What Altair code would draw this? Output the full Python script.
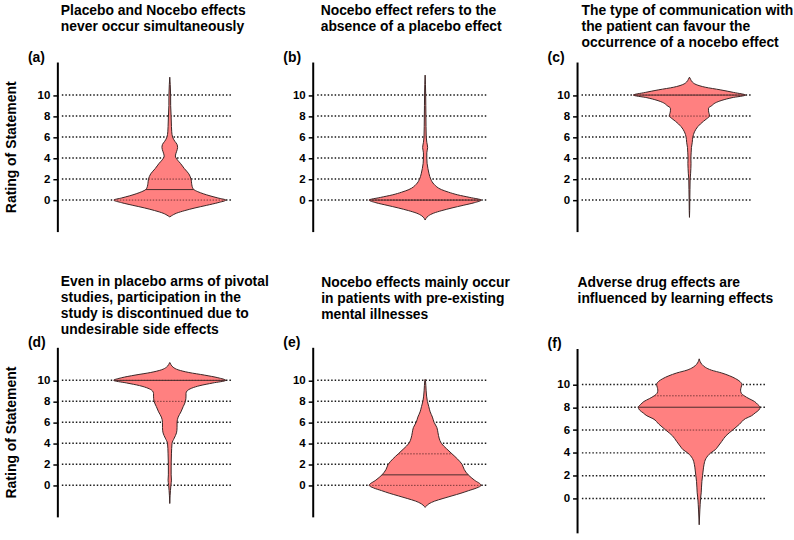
import altair as alt
import numpy as np
import pandas as pd

FONT = "Liberation Sans"
FILL = "#FF8080"
OUTLINE = "#3a2626"

titles = [
    ["Placebo and Nocebo effects", "never occur simultaneously"],
    ["Nocebo effect refers to the", "absence of a placebo effect"],
    ["The type of communication with", "the patient can favour the", "occurrence of a nocebo effect"],
    ["Even in placebo arms of pivotal", "studies, participation in the", "study is discontinued due to", "undesirable side effects"],
    ["Nocebo effects mainly occur", "in patients with pre-existing", "mental illnesses"],
    ["Adverse drug effects are", "influenced by learning effects"],
]
panel_labels = ["(a)", "(b)", "(c)", "(d)", "(e)", "(f)"]
y_title = "Rating of Statement"
tick_values = [0, 2, 4, 6, 8, 10]

# violin outlines: rating level and relative density (half-width)
rating_a = [-1.6, -1.5, -1.25, -1.0, -0.75, -0.5, -0.25, 0, 0.2, 0.4, 0.6, 0.8, 1.0, 1.3, 1.6, 2.0, 2.5, 3.0,
            3.5, 3.8, 4.2, 4.6, 5.0, 5.3, 5.6, 6.0, 6.5, 7.0, 8.0, 9.0, 10.0, 11.0, 11.7]
dens_a = [0, 0.03, 0.12, 0.27, 0.45, 0.66, 0.86, 1.0, 0.86, 0.72, 0.6, 0.5, 0.43, 0.40, 0.39, 0.38, 0.34, 0.26,
          0.19, 0.14, 0.10, 0.12, 0.14, 0.13, 0.09, 0.05, 0.035, 0.03, 0.024, 0.016, 0.015, 0.008, 0]

rating_b = [-1.9, -1.75, -1.5, -1.25, -1.0, -0.75, -0.5, -0.25, 0, 0.25, 0.5, 0.75, 1.0, 1.5, 2.0, 2.5, 3.0,
            3.5, 4.0, 4.5, 5.0, 5.5, 6.0, 7.0, 8.0, 9.0, 10.0, 11.0, 11.9]
dens_b = [0, 0.015, 0.06, 0.15, 0.3, 0.48, 0.68, 0.88, 1.0, 0.8, 0.58, 0.42, 0.29, 0.16, 0.10, 0.07, 0.05,
          0.035, 0.03, 0.03, 0.045, 0.03, 0.02, 0.016, 0.014, 0.012, 0.01, 0.006, 0]

rating_c = [-1.65, -1.0, 0, 1.0, 2.0, 2.5, 3.0, 3.5, 4.0, 4.5, 5.0, 5.5, 6.0, 6.5, 7.0, 7.5, 7.75, 8.0, 8.25,
            8.5, 8.75, 9.0, 9.25, 9.5, 9.75, 10.0, 10.25, 10.5, 10.75, 11.0, 11.25, 11.5, 11.7]
dens_c = [0, 0.004, 0.006, 0.009, 0.012, 0.02, 0.025, 0.028, 0.025, 0.03, 0.035, 0.05, 0.06, 0.09, 0.15, 0.25,
          0.31, 0.36, 0.35, 0.34, 0.34, 0.40, 0.46, 0.58, 0.76, 1.0, 0.79, 0.55, 0.28, 0.12, 0.05, 0.02, 0]

rating_d = [-1.73, -1.0, -0.5, 0, 0.5, 1.0, 2.0, 3.0, 4.0, 4.5, 5.0, 5.5, 6.0, 6.5, 7.0, 7.5, 8.0, 8.5, 8.75,
            9.0, 9.25, 9.5, 9.75, 10.0, 10.25, 10.5, 10.75, 11.0, 11.25, 11.5, 11.7]
dens_d = [0, 0.006, 0.012, 0.02, 0.03, 0.025, 0.025, 0.03, 0.04, 0.08, 0.12, 0.13, 0.13, 0.15, 0.20, 0.24, 0.28,
          0.29, 0.29, 0.31, 0.39, 0.54, 0.77, 1.0, 0.86, 0.62, 0.34, 0.15, 0.06, 0.02, 0]

rating_e = [-2.1, -2.0, -1.75, -1.5, -1.25, -1.0, -0.75, -0.5, -0.25, 0, 0.5, 1.0, 1.5, 2.0, 2.5, 3.0, 3.5, 4.0,
            4.5, 5.0, 5.5, 6.0, 6.5, 7.0, 7.5, 8.0, 9.0, 10.0, 10.1]
dens_e = [0, 0.015, 0.07, 0.17, 0.32, 0.48, 0.64, 0.78, 0.92, 1.0, 0.88, 0.77, 0.70, 0.66, 0.58, 0.48, 0.38, 0.29,
          0.25, 0.23, 0.21, 0.16, 0.13, 0.09, 0.065, 0.04, 0.018, 0.006, 0]

rating_f = [-2.3, -1.0, -0.5, 0, 0.5, 1.0, 1.5, 2.0, 2.5, 3.0, 3.5, 4.0, 4.3, 4.5, 5.0, 5.5, 6.0, 6.5, 7.0, 7.25,
            7.5, 7.75, 8.0, 8.25, 8.5, 8.75, 9.0, 9.25, 9.5, 9.75, 10.0, 10.25, 10.5, 10.75, 11.0, 11.25, 11.5,
            11.75, 12.0, 12.24]
dens_f = [0, 0.011, 0.016, 0.022, 0.033, 0.038, 0.044, 0.055, 0.066, 0.08, 0.11, 0.19, 0.27, 0.30, 0.37, 0.44,
          0.55, 0.66, 0.76, 0.86, 0.92, 0.98, 1.0, 0.96, 0.91, 0.82, 0.74, 0.69, 0.68, 0.69, 0.70, 0.67, 0.60,
          0.50, 0.37, 0.2, 0.1, 0.045, 0.015, 0]

ratings = [rating_a, rating_b, rating_c, rating_d, rating_e, rating_f]
densities = [dens_a, dens_b, dens_c, dens_d, dens_e, dens_f]

medians = [1, 0, 10, 10, 1, 8]
quartile_low = [0, 0, 8, 8, 0, 6]
quartile_high = [2, 0, 10, 10, 3, 9]

# layout/style parameters per panel
panel_scale = [1, 1, 1, 1, 1, 1.087]
extra_w = [0, 5, 0, 0, 9, 0]
title_offset = [14.7, 14.4, -1.3, -3.3, 12, 27.7]
title_dx = [3, 7.5, 4, 3, 8, 0]

Y_MIN, Y_MAX, AXIS_TOP = -3.05, 14.43, 13.1


def panel(i):
    s = panel_scale[i]
    grid_w = 174 * s
    W = grid_w + extra_w[i]
    H = 184 * s
    ppu = 56.1 * s
    xs = alt.Scale(domain=[-2.0, W / ppu - 2.0], nice=False, zero=False)
    ys = alt.Scale(domain=[Y_MIN, Y_MAX], nice=False, zero=False)
    yaxis = alt.Axis(values=tick_values, domain=False, grid=False, ticks=True, tickSize=5, tickWidth=1.5,
                     tickColor="black", labelFont=FONT, labelFontWeight="bold", labelFontSize=11.5,
                     labelColor="black", labelPadding=3, title=None)
    axis_top = H * (Y_MAX - AXIS_TOP) / (Y_MAX - Y_MIN)

    r = ratings[i]
    d = densities[i]
    vdf = pd.DataFrame({"rating": r, "lo": [-v for v in d], "hi": d})

    def span(levels):
        w = [float(np.interp(v, r, d)) for v in levels]
        return pd.DataFrame({"level": levels, "lo": [-x for x in w], "hi": w})

    mdf = span([medians[i]])
    qdf = span([quartile_low[i], quartile_high[i]])

    grid = alt.Chart(pd.DataFrame({"tick": tick_values})).mark_rule(
        strokeDash=[1.5, 2.0], strokeWidth=1.5, color="#1a1a1a"
    ).encode(y=alt.Y("tick:Q", scale=ys, axis=yaxis), x=alt.value(4 * s), x2=alt.value(grid_w))

    violin = alt.Chart(vdf).mark_area(
        orient="horizontal", interpolate="monotone", fill=FILL, fillOpacity=1, stroke=OUTLINE, strokeWidth=1
    ).encode(y=alt.Y("rating:Q", scale=ys, axis=yaxis), x=alt.X("lo:Q", scale=xs, axis=None), x2="hi:Q")

    quart = alt.Chart(qdf).mark_rule(strokeDash=[1.5, 1.5], strokeWidth=1, color="#7a3838").encode(
        y=alt.Y("level:Q", scale=ys, axis=yaxis), x=alt.X("lo:Q", scale=xs, axis=None), x2="hi:Q")

    med = alt.Chart(mdf).mark_rule(strokeWidth=1, color="#4a2c2c").encode(
        y=alt.Y("level:Q", scale=ys, axis=yaxis), x=alt.X("lo:Q", scale=xs, axis=None), x2="hi:Q")

    axis_line = alt.Chart(pd.DataFrame({"k": [0]})).mark_rule(color="black", strokeWidth=2).encode(
        x=alt.value(0), y=alt.value(axis_top), y2=alt.value(H))

    label = alt.Chart(pd.DataFrame({"label": [panel_labels[i]]})).mark_text(
        align="left", baseline="middle", font=FONT, fontWeight="bold", fontSize=14, color="black"
    ).encode(text="label:N", x=alt.value(-30), y=alt.value(axis_top - 5))

    layers = [grid, violin, quart, med, axis_line, label]
    if i % 3 == 0:
        ytl = alt.Chart(pd.DataFrame({"t": [y_title]})).mark_text(
            angle=270, align="center", baseline="middle", font=FONT, fontWeight="bold", fontSize=14,
            color="black"
        ).encode(text="t:N", x=alt.value(-46), y=alt.value((axis_top + H) / 2))
        layers.append(ytl)

    return alt.layer(*layers).properties(
        width=W, height=H,
        title=alt.TitleParams(text=titles[i], anchor="start", frame="group", dx=title_dx[i],
                              offset=title_offset[i], font=FONT, fontSize=13.9, fontWeight="bold",
                              color="black", lineHeight=16),
    )


chart = alt.concat(
    *[panel(i) for i in range(6)], columns=3, spacing={"row": 102, "column": 82}, align="none", bounds="flush"
).properties(
    padding={"left": 5, "top": 3, "right": 0, "bottom": 0}, background="white"
).configure_view(strokeWidth=0)

chart.save("out.html", embed_options={"renderer": "svg", "actions": False})
